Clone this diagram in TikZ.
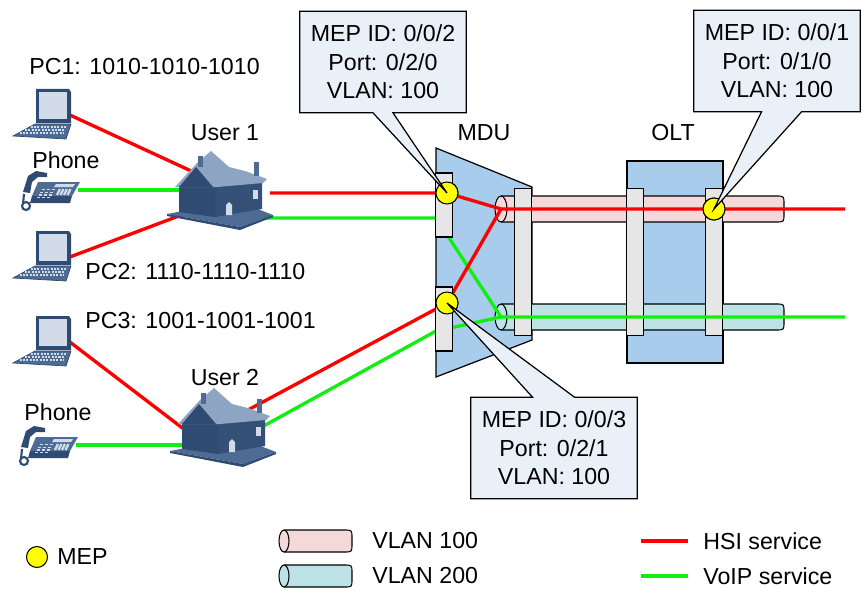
\documentclass[tikz,border=0pt]{standalone}
\usepackage{fontspec}
\setmainfont{Liberation Sans}
\usepackage{xcolor}
\definecolor{boxBlue}{HTML}{A8CCEC}
\definecolor{cardGray}{HTML}{E6E6E6}
\definecolor{vlanRed}{HTML}{F5D8DA}
\definecolor{vlanCyan}{HTML}{BDE3E6}
\definecolor{noteFill}{HTML}{EAF0F8}
\definecolor{hsiRed}{HTML}{FF0000}
\definecolor{voipGreen}{HTML}{11EE11}
\definecolor{mepYellow}{HTML}{FFFF00}
\definecolor{iconDark}{HTML}{2F4B72}
\definecolor{iconMid}{HTML}{4D6B93}
\definecolor{iconLight}{HTML}{8DA5C2}
\definecolor{iconPale}{HTML}{D2DCE8}
\usepackage{tikz}
\usetikzlibrary{calc}

% small clip-art pieces, drawn round their own centre (y grows downwards)
\tikzset{
  laptop/.pic={
    \fill[iconDark] (-6,-26) -- (27,-26) -- (29,-23) -- (29,8) -- (-6,8) -- cycle;
    \fill[iconPale] (-3,-23) rectangle (25,4);
    \fill[iconMid, draw=iconDark, line width=0.4pt] (-7,9) -- (29,9) -- (24,24) -- (-29,21) -- cycle;
    \foreach \yy in {12,15,18}
      \draw[iconPale, line width=0.9pt, dash pattern=on 1.2pt off 0.7pt]
        ({-6-1.83*(\yy-9)},\yy) -- ({25-(\yy-9)/3},\yy);
  },
  deskphone/.pic={
    \fill[iconDark] (-18,6) -- (22,6) -- (20,13) -- (-20,13) -- cycle;
    \fill[iconMid] (-12,-8) -- (30,-8) -- (22,6) -- (-18,6) -- cycle;
    \fill[iconPale] (6,-6) -- (25,-6) -- (23,-3) -- (4,-3) -- cycle;
    \foreach \i in {0,1,2}
      \foreach \j in {0,1,2,3}
        \fill[iconPale] ({-8+5*\i-1.6*\j},{-1+2.6*\j}) rectangle ++(3,1.4);
    \foreach \i in {0,1,2,3}
      \draw[iconPale, line width=1.3pt] ({10+3.5*\i},-1) -- ({7+3.5*\i},5);
    \fill[iconDark] (-27,2) -- (-22,-14) -- (-14,-19) -- (-3,-17) -- (-3,-13)
      -- (-12,-13) -- (-18,-8) -- (-20,3) -- cycle;
    \draw[iconDark, line width=1.2pt] (-26,4) -- (-27,14);
    \draw[iconDark, line width=1.2pt] (-24,16) circle (0.08cm);
  },
  house/.pic={
    \fill[iconMid] (-50,21) -- (23,34) -- (56,22) -- (20,8) -- cycle;
    \fill[iconDark] (-50,21) -- (23,34) -- (56,22) -- (56,24) -- (23,37) -- (-50,23) -- cycle;
    \fill[iconDark!85!iconMid] (-2,-6) -- (45,-12) -- (45,16) -- (-2,24) -- cycle;
    \fill[iconDark] (-38,-6) -- (-2,-6) -- (-2,24) -- (-38,19) -- cycle;
    \fill[iconLight] (-42,-6) -- (-20,-30) -- (-6,-42) -- (12,-26) -- (28,-22)
      -- (50,-14) -- (46,-10) -- (0,-6) -- cycle;
    \fill[iconDark] (-38,-6) -- (-21,-26) -- (-4,-6) -- cycle;
    \fill[iconMid] (-19,-37) rectangle (-14,-26);
    \fill[iconMid] (37,-31) rectangle (42,-17);
    \fill[iconPale] (9,22) -- (9,12) -- (12,9) -- (15,12) -- (15,22) -- cycle;
    \fill[iconPale] (36,-3) rectangle (41,6);
  },
}

\begin{document}
\begin{tikzpicture}[x=0.02cm, y=-0.02cm,
    font=\fontsize{13.2}{16.2}\selectfont,
    hsi/.style={hsiRed, line width=1.9pt},
    voip/.style={voipGreen, line width=1.9pt},
    card/.style={draw, fill=cardGray, line width=0.6pt, inner sep=0, minimum width=0.33cm},
    mep/.style={circle, draw, fill=mepYellow, line width=0.6pt, inner sep=0, minimum size=0.44cm},
    icon/.style={inner sep=0, minimum width=1.1cm, minimum height=0.9cm},
    notebox/.style={inner sep=0, minimum width=3.32cm, minimum height=2.02cm},
    note/.style={draw, fill=noteFill, line width=0.7pt},
    notetext/.style={align=center, inner sep=0},
    label/.style={inner sep=0}]
  \useasboundingbox (0,0) rectangle (868,588);

  % ---- MDU and OLT bodies ----
  \draw[fill=boxBlue, line width=0.7pt] (436,148) -- (532,187) -- (532,340) -- (436,377) -- cycle;
  \node[draw, fill=boxBlue, line width=0.7pt, minimum width=1.92cm, minimum height=4.04cm] (olt) at (675,262) {};

  % ---- VLAN pipes ----
  \foreach \y/\c in {209/vlanRed, 317/vlanCyan} {
    \draw[fill=\c, line width=0.6pt] (501,\y-13) -- (776,\y-13) .. controls (784,\y-13) .. (784,\y-5)
      -- (784,\y+5) .. controls (784,\y+13) .. (776,\y+13) -- (501,\y+13);
    \draw[fill=\c, line width=0.6pt] (501,\y) ellipse [x radius=0.12cm, y radius=0.26cm];
  }
  \coordinate (v100in) at (501,209);
  \coordinate (v200in) at (501,317);
  \coordinate (v100out) at (845,209);
  \coordinate (v200out) at (845,317);

  % uplink boards (lines run over them)
  \node[card, minimum height=2.94cm] (mduUp) at (523,262) {};
  \node[card, minimum height=2.94cm] (oltDown) at (635,262) {};
  \node[card, minimum height=2.94cm] (oltUp) at (714,262) {};

  % ---- terminals ----
  \node[icon] (pc1) at (42,115) {};
  \node[icon] (ph1) at (50,190) {};
  \node[icon] (pc2) at (42,257) {};
  \node[icon] (pc3) at (42,342) {};
  \node[icon] (ph2) at (48,445) {};
  \node[icon, minimum width=2.1cm, minimum height=1.5cm] (user1) at (217,193) {};
  \node[icon, minimum width=2.1cm, minimum height=1.5cm] (user2) at (220,430) {};
  \node[mep] (mep1) at (447,193) {};
  \node[mep] (mep2) at (447,303) {};
  \node[mep] (mep3) at (714,209) {};
  \coordinate (g1) at (436,218);
  \coordinate (g2) at (436,331);

  % ---- services ----
  \draw[hsi] (pc1.east) -- ($(user1)+(-15,-17)$);
  \draw[voip] (ph1.east) -- ($(user1)+(0,-3)$);
  \draw[hsi] (pc2.east) -- ($(user1)+(-25,18)$);
  \draw[hsi] (pc3.east) -- ($(user2)+(-35,0)$);
  \draw[voip] (ph2.east) -- ($(user2)+(0,15)$);
  \draw[hsi] (user1) -- (mep1.center) -- (v100in) -- (v100out);
  \draw[voip] ($(user1)+(0,25)$) -- (g1) -- (v200in);
  \draw[hsi] ($(user2)+(0,-5)$) -- (mep2.center) -- (v100in);
  \draw[voip] ($(user2)+(0,20)$) -- (g2) -- (v200in) -- (v200out);

  \pic at (pc1) {laptop};
  \pic at (pc2) {laptop};
  \pic at (pc3) {laptop};
  \pic at (ph1) {deskphone};
  \pic at (ph2) {deskphone};
  \pic at (user1) {house};
  \pic at (user2) {house};

  % user-side boards sit over the lines
  \node[card, minimum height=1.28cm] (p20) at (444,205) {};
  \node[card, minimum height=1.28cm] (p21) at (444,319) {};
  \node[mep] at (mep1) {};
  \node[mep] at (mep2) {};
  \node[mep] at (mep3) {};

  % ---- MEP notes ----
  \node[notebox] (note2) at (383,62) {};
  \draw[note] (note2.north west) -- (note2.north east) -- (note2.south east)
    -- ([xshift=0.2cm]note2.south) -- (mep1.center) -- ([xshift=-0.2cm]note2.south)
    -- (note2.south west) -- cycle;
  \node[notetext] (note2txt) at (note2) {MEP ID: 0/0/2\\Port: 0/2/0\\VLAN: 100};

  \node[notebox] (note1) at (777,61) {};
  \draw[note] (note1.north west) -- (note1.north east) -- (note1.south east)
    -- ([xshift=0.49cm]note1.south) -- (mep3.center) -- ([xshift=-0.31cm]note1.south)
    -- (note1.south west) -- cycle;
  \node[notetext] (note1txt) at (note1) {MEP ID: 0/0/1\\Port: 0/1/0\\VLAN: 100};

  \node[notebox] (note3) at (554,448) {};
  \draw[note] (note3.south west) -- (note3.south east) -- (note3.north east)
    -- ([xshift=0.41cm]note3.north) -- (mep2.center) -- ([xshift=-0.43cm]note3.north)
    -- (note3.north west) -- cycle;
  \node[notetext] (note3txt) at (note3) {MEP ID: 0/0/3\\Port: 0/2/1\\VLAN: 100};

  % ---- labels ----
  \node[label, anchor=west] (pc1Lbl) at (29,67) {PC1: 1010-1010-1010};
  \node[label] (ph1Lbl) at (66,160) {Phone};
  \node[label] (user1Lbl) at (225,133) {User 1};
  \node[label, anchor=west] (pc2Lbl) at (85,272) {PC2: 1110-1110-1110};
  \node[label, anchor=west] (pc3Lbl) at (85,321) {PC3: 1001-1001-1001};
  \node[label] (user2Lbl) at (225,378) {User 2};
  \node[label] (ph2Lbl) at (58,412) {Phone};
  \node[label] (mduLbl) at (484,133) {MDU};
  \node[label] (oltLbl) at (673,133) {OLT};

  % ---- legend ----
  \node[mep, minimum size=0.42cm] (legMep) at (37,557) {};
  \node[label, anchor=west] (legMepLbl) at (57,557) {MEP};
  \foreach \y/\c in {541/vlanRed, 576/vlanCyan} {
    \draw[fill=\c, line width=0.6pt] (284,\y-11) -- (344,\y-11) .. controls (352,\y-11) .. (352,\y-3)
      -- (352,\y+3) .. controls (352,\y+11) .. (344,\y+11) -- (284,\y+11);
    \draw[fill=\c, line width=0.6pt] (284,\y) ellipse [x radius=0.1cm, y radius=0.22cm];
  }
  \node[label, anchor=west] (leg100) at (372,541) {VLAN 100};
  \node[label, anchor=west] (leg200) at (372,576) {VLAN 200};
  \node[label, anchor=west] (legHsi) at (703,541) {HSI service};
  \node[label, anchor=west] (legVoip) at (703,576) {VoIP service};
  \draw[hsi] ([xshift=-0.3cm]legHsi.west) -- ++(-47,0);
  \draw[voip] ([xshift=-0.3cm]legVoip.west) -- ++(-47,0);
\end{tikzpicture}
\end{document}
